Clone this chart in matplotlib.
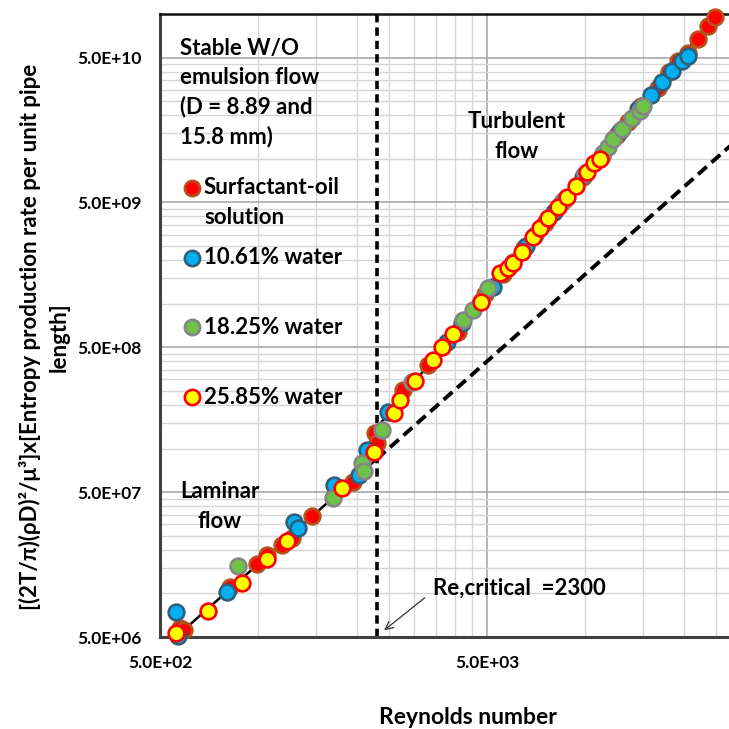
import matplotlib
matplotlib.use("Agg")
import matplotlib.pyplot as plt
from matplotlib.ticker import FixedLocator, NullFormatter, FixedFormatter

# ---- measured data: Reynolds number vs. scaled entropy production rate ----
surf_re = [576, 590, 819, 990, 1062, 1181, 1267, 1459, 1946, 2272, 2305, 2767, 3300,
           4077, 4940, 5600, 6500, 7500, 8600, 9800, 11240, 12500, 13500, 14800,
           16670, 18000, 19200, 20600, 22090, 23710, 24900]
surf_y = [5.77e6, 5.55e6, 1.107e7, 1.59e7, 1.84e7, 2.15e7, 2.41e7, 3.41e7, 5.86e7,
          1.28e8, 1.09e8, 2.52e8, 3.75e8, 6.34e8, 1.16e9, 1.60e9, 2.42e9, 3.58e9,
          5.2e9, 7.48e9, 1.05e10, 1.46e10, 1.80e10, 2.32e10, 3.06e10, 3.98e10,
          4.75e10, 5.41e10, 6.76e10, 8.31e10, 9.59e10]

w10_re = [560, 568, 802, 1285, 1322, 1703, 2031, 2148, 2490, 3776, 4200, 5200, 6600,
          8000, 9900, 12800, 14500, 15880, 17140, 18400, 19730, 20600]
w10_y = [7.43e6, 5.08e6, 1.02e7, 3.10e7, 2.82e7, 5.59e7, 6.55e7, 9.75e7, 1.78e8,
         5.41e8, 7.3e8, 1.31e9, 2.52e9, 4.28e9, 7.69e9, 1.56e10, 2.2e10, 2.74e10,
         3.41e10, 4.07e10, 4.77e10, 5.16e10]

w18_re = [866, 1690, 2075, 2103, 2388, 2951, 4224, 4530, 4800, 5035, 6000, 7000, 8500,
          10000, 11320, 11700, 12140, 12940, 13870, 14680, 15000]
w18_y = [1.54e7, 4.55e7, 7.93e7, 7.0e7, 1.34e8, 2.87e8, 7.68e8, 9.0e8, 1.05e9, 1.28e9,
         1.94e9, 2.96e9, 5.06e9, 7.9e9, 1.09e10, 1.2e10, 1.38e10, 1.62e10, 1.90e10,
         2.15e10, 2.33e10]

w26_re = [560, 701, 891, 1062, 1223, 1801, 2256, 2600, 2712, 3013, 3420, 3640, 3936,
          4796, 5479, 5800, 6010, 6400, 6920, 7270, 7690, 8240, 8790, 9360, 10110,
          10620, 11100]
w26_y = [5.3e6, 7.55e6, 1.18e7, 1.73e7, 2.30e7, 5.33e7, 9.44e7, 1.75e8, 2.15e8,
         2.92e8, 4.07e8, 5.0e8, 6.15e8, 1.02e9, 1.62e9, 1.77e9, 1.90e9, 2.26e9,
         2.87e9, 3.31e9, 3.88e9, 4.62e9, 5.41e9, 6.45e9, 8.05e9, 9.29e9, 1.0e10]

# correlation lines (end points)
lam_re = [559, 2300]
lam_y = [5.0e6, 8.46e7]
turb_re = [2300, 27000]
turb_y = [1.39e8, 1.21e11]
lam_ext_re = [2300, 40000]
lam_ext_y = [8.46e7, 2.56e10]
re_critical = 2300

x_major = [5e2, 5e3]
y_major = [5e6, 5e7, 5e8, 5e9, 5e10]
x_labels = ["5.0E+02", "5.0E+03"]
y_labels = ["5.0E+06", "5.0E+07", "5.0E+08", "5.0E+09", "5.0E+10"]

series = [
    ("Surfactant-oil", surf_re, surf_y, "#FF0000", "#B4541C"),
    ("10.61% water", w10_re, w10_y, "#00B0F0", "#2F5F7A"),
    ("18.25% water", w18_re, w18_y, "#6DC247", "#858585"),
    ("25.85% water", w26_re, w26_y, "#FFFF00", "#FF0000"),
]

FONT = ["Lato", "DejaVu Sans"]
plt.rcParams["font.family"] = FONT
plt.rcParams["font.weight"] = "bold"

W = 729.0
fig = plt.figure(figsize=(7.29, 7.29), dpi=100, facecolor="white")


def fx(px):
    return px / W


def fy(py):
    return 1 - py / W


# axes runs past the right edge of the figure
ax = fig.add_axes([fx(160), fy(637), (814 - 160) / W, (637 - 14) / W])
ax.set_xscale("log")
ax.set_yscale("log")
ax.set_xlim(500, 50000)
ax.set_ylim(5e6, 1e11)

# grid: 1-9 multiples of each 5x10^n decade start
xminor = [500 * k * 10 ** n for n in range(0, 2) for k in range(2, 10)] + [5e4]
yminor = [5e6 * k * 10 ** n for n in range(0, 4) for k in range(2, 10)]
ax.xaxis.set_major_locator(FixedLocator(x_major))
ax.yaxis.set_major_locator(FixedLocator(y_major))
ax.xaxis.set_minor_locator(FixedLocator(xminor))
ax.yaxis.set_minor_locator(FixedLocator(yminor))
ax.xaxis.set_major_formatter(FixedFormatter(x_labels))
ax.yaxis.set_major_formatter(FixedFormatter(y_labels))
ax.xaxis.set_minor_formatter(NullFormatter())
ax.yaxis.set_minor_formatter(NullFormatter())
ax.grid(which="major", color="#a9a9a9", lw=1.2)
ax.grid(which="minor", color="#d6d6d6", lw=1.0)
ax.set_axisbelow(True)
ax.tick_params(which="both", length=0)
ax.tick_params(axis="y", pad=13, labelsize=12.5)
ax.tick_params(axis="x", pad=13, labelsize=12.5)
for lab in ax.get_xticklabels() + ax.get_yticklabels():
    lab.set_fontweight("bold")

ax.spines["left"].set_color("#404040")
ax.spines["left"].set_linewidth(2.2)
ax.spines["bottom"].set_color("#404040")
ax.spines["bottom"].set_linewidth(2.2)
ax.spines["top"].set_color("#111111")
ax.spines["top"].set_linewidth(1.8)
ax.spines["right"].set_visible(False)

# correlation lines
ax.plot(lam_re, lam_y, color="black", lw=1.8, zorder=2)
ax.plot(turb_re, turb_y, color="black", lw=1.8, zorder=2)
ax.plot(lam_ext_re, lam_ext_y, color="black", lw=2.8, dashes=(3.0, 1.6), zorder=2)
ax.axvline(re_critical, color="black", lw=2.6, dashes=(2.3, 1.4), zorder=2)

for i, (name, xs, ys, face, edge) in enumerate(series):
    ax.scatter(xs, ys, s=128, facecolor=face, edgecolor=edge, linewidths=1.9,
               zorder=3 + i, clip_on=False)

TXT = 16

# legend drawn inside the plot area
leg_rows = [188, 258, 327, 397]
for (name, xs, ys, face, edge), py in zip(series, leg_rows):
    ax.plot([fx(192)], [fy(py)], transform=fig.transFigure, marker="o", ls="none",
            ms=11, mfc=face, mec=edge, mew=1.9, clip_on=False, zorder=10)
    fig.text(fx(204), fy(py), name, fontsize=TXT, fontweight="bold",
             va="center", ha="left")
fig.text(fx(204), fy(217), "solution", fontsize=TXT, fontweight="bold",
         va="center", ha="left")

fig.text(fx(180), fy(48), "Stable W/O", fontsize=TXT, fontweight="bold", va="center")
fig.text(fx(180), fy(78), "emulsion flow", fontsize=TXT, fontweight="bold", va="center")
fig.text(fx(180), fy(107), "(D = 8.89 and", fontsize=TXT, fontweight="bold", va="center")
fig.text(fx(180), fy(137), "15.8 mm)", fontsize=TXT, fontweight="bold", va="center")

fig.text(fx(517), fy(122), "Turbulent", fontsize=TXT, fontweight="bold",
         va="center", ha="center")
fig.text(fx(517), fy(152), "flow", fontsize=TXT, fontweight="bold",
         va="center", ha="center")
fig.text(fx(220), fy(492), "Laminar", fontsize=TXT, fontweight="bold",
         va="center", ha="center")
fig.text(fx(220), fy(522), "flow", fontsize=TXT, fontweight="bold",
         va="center", ha="center")

fig.text(fx(433), fy(588), "Re,critical  =2300", fontsize=TXT, fontweight="bold",
         va="center", ha="left")
ax.annotate("", xy=(fx(382), fy(632)), xycoords=fig.transFigure,
            xytext=(fx(427), fy(596)), textcoords=fig.transFigure,
            arrowprops=dict(arrowstyle="->", color="#333333", lw=0.9,
                            mutation_scale=14))

fig.text(fx(468), fy(717), "Reynolds number", fontsize=16.5, fontweight="bold",
         va="center", ha="center")
fig.text(fx(44), fy(337),
         "[(2T/\u03c0)(\u03c1D)\u00b2/\u03bc\u00b3]x[Entropy production rate per unit pipe\nlength]",
         fontsize=16, fontweight="bold", rotation=90, va="center", ha="center",
         multialignment="center", linespacing=1.45)

fig.savefig("out.png", dpi=100, facecolor="white")
